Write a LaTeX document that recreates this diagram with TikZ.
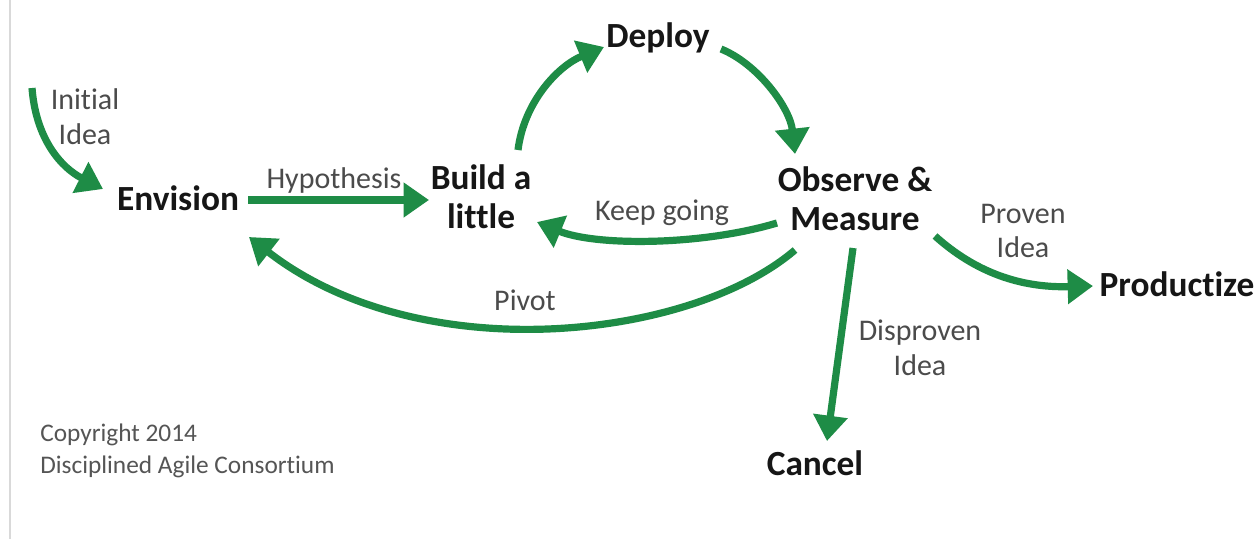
\documentclass[tikz,border=0pt]{standalone}
\usepackage{fontspec}
\setmainfont{Carlito}[Ligatures=NoCommon]
\usetikzlibrary{arrows.meta}
\definecolor{agreen}{RGB}{30,140,70}
\definecolor{lblgray}{RGB}{75,75,75}
\definecolor{boldtxt}{RGB}{22,22,22}
\definecolor{copygray}{RGB}{85,85,85}
\begin{document}
\begin{tikzpicture}[x=0.75pt,y=-0.75pt,
  stage/.style={font=\fontsize{26.5}{29}\selectfont\bfseries, text=boldtxt, align=center, inner sep=0pt},
  lbl/.style={font=\fontsize{22.5}{26}\selectfont, text=lblgray, align=center, inner sep=0pt},
  arr/.style={draw=agreen, line width=5.4pt, -{Triangle[length=19pt,width=25pt]}}]
\useasboundingbox (0,0) rectangle (1259,539);
\fill[white] (0,0) rectangle (1259,539);
\draw[line width=1.8pt, black!15] (10,0) -- (10,539);

% stages
\node[stage] (env) at (178,198) {Envision};
\node[stage] (bal) at (481,197) {Build a\\little};
\node[stage] (dep) at (658,38) {Deploy};
\node[stage] (obs) at (855,199) {Observe \&\\Measure};
\node[stage] (prod) at (1177,284) {Productize};
\node[stage] (can) at (815,463) {Cancel};

% labels
\node[lbl] (linit) at (85,117) {Initial\\Idea};
\node[lbl] (lhyp) at (334,180) {Hypothesis};
\node[lbl] (lkeep) at (662,213) {Keep going};
\node[lbl] (lpiv) at (525,300) {Pivot};
\node[lbl] (lprov) at (1023,231) {Proven\\Idea};
\node[lbl] (ldis) at (920,348) {Disproven\\Idea};
\node[font=\fontsize{19}{23.5}\selectfont, text=copygray, align=left, inner sep=0pt, anchor=north west] (copy) at (40,424) {Copyright 2014\\Disciplined Agile Consortium};

% connector end points
\coordinate (istart) at (32,88);
\coordinate (iend) at (103,189);
\coordinate (hs) at (248,200);
\coordinate (he) at (429,200);
\coordinate (bs) at (518,150);
\coordinate (be) at (604,47);
\coordinate (ds) at (721,49);
\coordinate (de) at (795,154);
\coordinate (ks) at (777,223);
\coordinate (ke) at (537,222);
\coordinate (ps) at (795,250);
\coordinate (pe) at (249,237);
\coordinate (prs) at (935,236);
\coordinate (pre) at (1093,286);
\coordinate (cs) at (853,248);
\coordinate (ce) at (827,441);

\draw[arr] (istart) .. controls (36,140) and (62,168) .. (iend);
\draw[arr] (hs) -- (he);
\draw[arr] (bs) .. controls (524,102) and (558,66) .. (be);
\draw[arr] (ds) .. controls (758,64) and (790,108) .. (de);
\draw[arr] (ks) .. controls (700,246) and (595,246) .. (ke);
\draw[arr] (ps) .. controls (690,340) and (420,370) .. (pe);
\draw[arr] (prs) .. controls (975,272) and (1020,288) .. (pre);
\draw[arr] (cs) -- (ce);
\end{tikzpicture}
\end{document}
